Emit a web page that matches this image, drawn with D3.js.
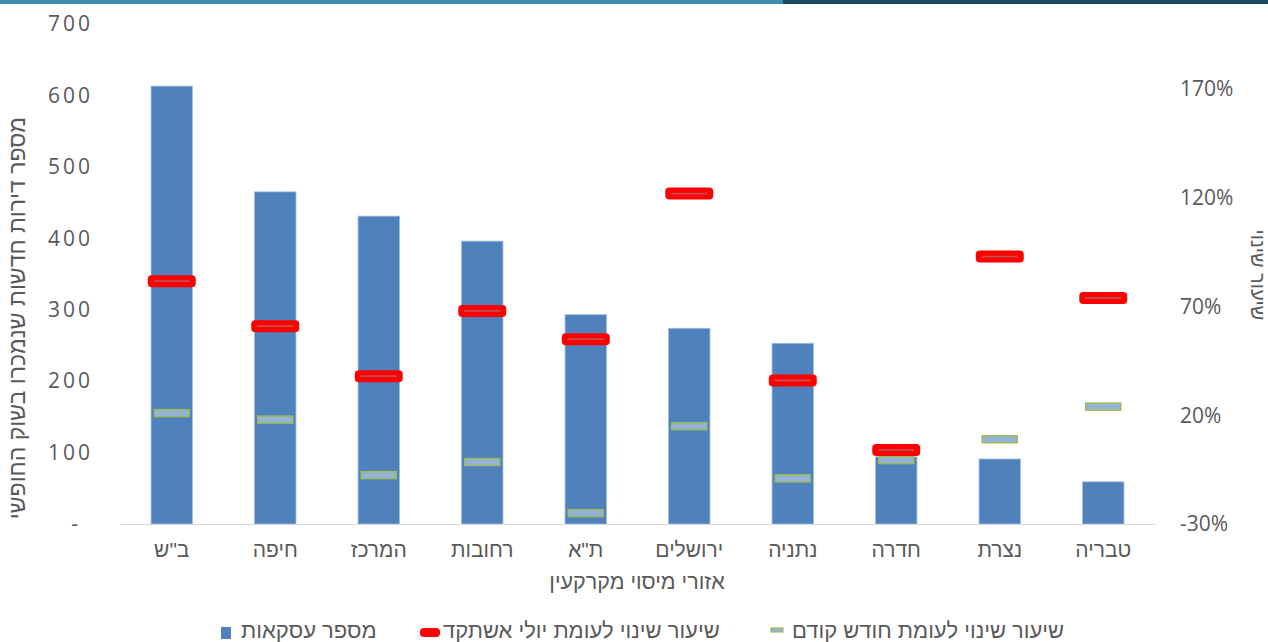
<!DOCTYPE html>
<html><head><meta charset="utf-8">
<script src="https://cdn.jsdelivr.net/npm/d3@7"></script>
<style>
body{margin:0;background:#fff}
svg{display:block}
text{font-family:"Liberation Sans",Arial,sans-serif;fill:#595959}
text.num{font-family:"Open Sans",sans-serif}
</style>
</head><body><svg id="c" width="1268" height="642"></svg>
<script>
const categories = ['ב"ש','חיפה','המרכז','רחובות','ת"א','ירושלים','נתניה','חדרה','נצרת','טבריה'];
const transactions = [613,465,431,396,293,274,253,94,91,59];
const changeVsLastYear = [81.7,61,38,68,55,122,36,4,93,74];
const changeVsPrevMonth = [21,18,-7.5,-1.5,-25,15,-9,-0.6,9,24];
const leftTicks = [0,100,200,300,400,500,600,700];
const rightTicks = [-30,20,70,120,170];
const seriesNames = ['מספר עסקאות','שיעור שינוי לעומת יולי אשתקד','שיעור שינוי לעומת חודש קודם'];
const leftTitle = 'מספר דירות חדשות שנמכרו בשוק החופשי';
const rightTitle = 'שיעור שינוי';
const xTitle = 'אזורי מיסוי מקרקעין';

const svg = d3.select('#c');
// top strip
svg.append('rect').attr('x',0).attr('y',0).attr('width',783).attr('height',4).attr('fill','#3b8fab');
svg.append('rect').attr('x',783).attr('y',0).attr('width',485).attr('height',4).attr('fill','#1a4863');

const x = d3.scaleBand().domain(categories).range([120,1155]).paddingInner(0.6).paddingOuter(0.3);
const yL = d3.scaleLinear().domain([0,700]).range([524,24]);
const yR = d3.scaleLinear().domain([-30,200]).range([524,24]);

// left axis
const gL = svg.append('g').attr('transform','translate(93,0)')
  .call(d3.axisLeft(yL).tickValues(leftTicks).tickSize(0).tickPadding(0).tickFormat(d => d===0 ? '-' : d));
gL.select('.domain').remove();
gL.selectAll('text').attr('class','num').attr('font-size',21).style('letter-spacing','3px').attr('fill','#595959')
  .attr('dx', d => d===0 ? -12 : 0);

// right axis
const gR = svg.append('g').attr('transform','translate(1180,0)')
  .call(d3.axisRight(yR).tickValues(rightTicks).tickSize(0).tickPadding(0).tickFormat(d => d + '%'));
gR.select('.domain').remove();
gR.selectAll('text').attr('class','num').attr('font-size',21).attr('fill','#595959');

// bars
svg.append('g').selectAll('rect').data(transactions).join('rect')
  .attr('x',(d,i)=>x(categories[i]))
  .attr('width',x.bandwidth())
  .attr('y',d=>yL(d))
  .attr('height',d=>yL(0)-yL(d))
  .attr('fill','#4f81bd')
  .attr('stroke','#9fbbe0').attr('stroke-width',0.8);

// x axis
const gX = svg.append('g').attr('transform','translate(0,524)')
  .call(d3.axisBottom(x).tickSize(0).tickPadding(18));
gX.select('.domain').attr('stroke','#d9d9d9').attr('stroke-width',1.2);
gX.selectAll('text').attr('font-size',21).style('font-family','"Liberation Sans",Arial,sans-serif').attr('fill','#595959');

// previous month markers (green border, light blue fill)
svg.append('g').selectAll('rect').data(changeVsPrevMonth).join('rect')
  .attr('x',(d,i)=>x(categories[i])+x.bandwidth()/2-17.5)
  .attr('y',d=>yR(d)-3.5)
  .attr('width',35).attr('height',7)
  .attr('fill','#95b3d7').attr('stroke','#9bbb59').attr('stroke-width',1.5);

// last year markers (red dash)
const gm = svg.append('g');
gm.selectAll('rect').data(changeVsLastYear).join('rect')
  .attr('x',(d,i)=>x(categories[i])+x.bandwidth()/2-24)
  .attr('y',d=>yR(d)-6)
  .attr('width',48).attr('height',12).attr('rx',4)
  .attr('fill','#ff0000');
gm.selectAll('line').data(changeVsLastYear).join('line')
  .attr('x1',(d,i)=>x(categories[i])+x.bandwidth()/2-18)
  .attr('x2',(d,i)=>x(categories[i])+x.bandwidth()/2+18)
  .attr('y1',d=>yR(d)).attr('y2',d=>yR(d))
  .attr('stroke','#c0504d').attr('stroke-width',1.8);

// axis titles
svg.append('text').attr('transform','translate(25,318) rotate(-90)')
  .attr('text-anchor','middle').attr('font-size',23).text(leftTitle);
svg.append('text').attr('transform','translate(1251,275) rotate(90)')
  .attr('text-anchor','middle').attr('font-size',20).text(rightTitle);
svg.append('text').attr('x',637).attr('y',589)
  .attr('text-anchor','middle').attr('font-size',21.5).text(xTitle);

// legend
const lg = svg.append('g');
lg.append('rect').attr('x',221).attr('y',627).attr('width',10).attr('height',12).attr('fill','#4f81bd');
lg.append('text').attr('x',241).attr('y',638).attr('font-size',22).text(seriesNames[0]);
lg.append('rect').attr('x',420).attr('y',628).attr('width',20).attr('height',9).attr('rx',4).attr('fill','#ff0000');
lg.append('text').attr('x',443).attr('y',638).attr('font-size',22).text(seriesNames[1]);
lg.append('rect').attr('x',771).attr('y',628).attr('width',12).attr('height',4).attr('fill','#95b3d7').attr('stroke','#9bbb59').attr('stroke-width',1.2);
lg.append('text').attr('x',792).attr('y',638).attr('font-size',22).text(seriesNames[2]);
</script></body></html>
